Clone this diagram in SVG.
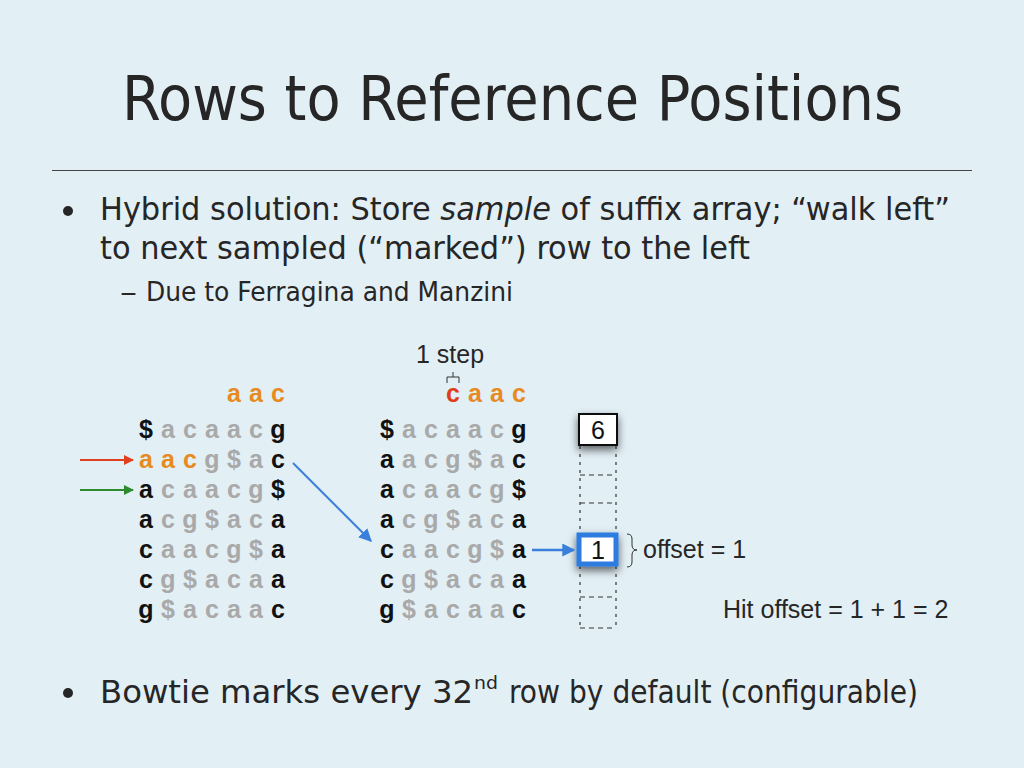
<svg xmlns="http://www.w3.org/2000/svg" width="1024" height="768" viewBox="0 0 1024 768">
<defs>
<style>
.t{font-family:"DejaVu Sans Condensed","DejaVu Sans",sans-serif;fill:#262626}
.m{font-family:"Liberation Sans",Arial,sans-serif;font-weight:bold;font-size:25px;text-anchor:middle}
.k{fill:#111}
.g{fill:#a9a9a9}
.o{fill:#e88a22}
.r{fill:#e03c1e}
.h{font-family:"Liberation Sans",Arial,sans-serif;font-size:25px;fill:#262626}
.dot{fill:none;stroke:#333;stroke-width:1.2;stroke-dasharray:3 5}
.dash{fill:none;stroke:#333;stroke-width:1.2;stroke-dasharray:5 4}
</style>
<marker id="ar" viewBox="0 0 10 10" refX="9" refY="5" markerWidth="10" markerHeight="10" markerUnits="userSpaceOnUse" orient="auto"><path d="M0,0 L10,5 L0,10 Z" fill="#e0401f"/></marker>
<marker id="ag" viewBox="0 0 10 10" refX="9" refY="5" markerWidth="10" markerHeight="10" markerUnits="userSpaceOnUse" orient="auto"><path d="M0,0 L10,5 L0,10 Z" fill="#2e8a2e"/></marker>
<marker id="ab" viewBox="0 0 10 10" refX="9" refY="5" markerWidth="13" markerHeight="13" markerUnits="userSpaceOnUse" orient="auto"><path d="M0,0 L10,5 L0,10 Z" fill="#3a7fdc"/></marker>
<filter id="sh" x="-50%" y="-50%" width="200%" height="220%"><feDropShadow dx="0" dy="4" stdDeviation="4" flood-color="#000" flood-opacity="0.6"/></filter>
</defs>
<rect width="1024" height="768" fill="#e2eff5"/>

<g id="title"><text class="t" x="122" y="120" font-size="62" textLength="781" lengthAdjust="spacingAndGlyphs">Rows to Reference Positions</text></g>
<line x1="52" y1="170.5" x2="972" y2="170.5" stroke="#444" stroke-width="1"/>

<g id="bullets">
<circle cx="68" cy="211" r="5" fill="#262626"/>
<text class="t" x="100" y="220" font-size="32" textLength="850" lengthAdjust="spacingAndGlyphs">Hybrid solution: Store <tspan font-style="italic">sample</tspan> of suffix array; “walk left”</text>
<text class="t" x="100" y="259" font-size="32" textLength="650" lengthAdjust="spacingAndGlyphs">to next sampled (“marked”) row to the left</text>
<text class="t" x="120" y="301" font-size="26" textLength="17" lengthAdjust="spacingAndGlyphs">–</text>
<text class="t" x="146" y="301" font-size="26" textLength="367" lengthAdjust="spacingAndGlyphs">Due to Ferragina and Manzini</text>
<circle cx="68" cy="693" r="5" fill="#262626"/>
<text class="t" x="100" y="703" font-size="32" textLength="373" lengthAdjust="spacingAndGlyphs">Bowtie marks every 32</text>
<text class="t" x="474" y="689" font-size="18" textLength="24" lengthAdjust="spacingAndGlyphs">nd</text>
<text class="t" x="509" y="703" font-size="32" textLength="409" lengthAdjust="spacingAndGlyphs">row by default (configurable)</text>
</g>

<g id="left-matrix" class="m">
<text y="402"><tspan x="234" class="o">a</tspan><tspan x="256" class="o">a</tspan><tspan x="278" class="o">c</tspan></text>
<text y="438"><tspan x="146" class="k">$</tspan><tspan x="168" class="g">a</tspan><tspan x="190" class="g">c</tspan><tspan x="212" class="g">a</tspan><tspan x="234" class="g">a</tspan><tspan x="256" class="g">c</tspan><tspan x="278" class="k">g</tspan></text>
<text y="468"><tspan x="146" class="o">a</tspan><tspan x="168" class="o">a</tspan><tspan x="190" class="o">c</tspan><tspan x="212" class="g">g</tspan><tspan x="234" class="g">$</tspan><tspan x="256" class="g">a</tspan><tspan x="278" class="k">c</tspan></text>
<text y="498"><tspan x="146" class="k">a</tspan><tspan x="168" class="g">c</tspan><tspan x="190" class="g">a</tspan><tspan x="212" class="g">a</tspan><tspan x="234" class="g">c</tspan><tspan x="256" class="g">g</tspan><tspan x="278" class="k">$</tspan></text>
<text y="528"><tspan x="146" class="k">a</tspan><tspan x="168" class="g">c</tspan><tspan x="190" class="g">g</tspan><tspan x="212" class="g">$</tspan><tspan x="234" class="g">a</tspan><tspan x="256" class="g">c</tspan><tspan x="278" class="k">a</tspan></text>
<text y="558"><tspan x="146" class="k">c</tspan><tspan x="168" class="g">a</tspan><tspan x="190" class="g">a</tspan><tspan x="212" class="g">c</tspan><tspan x="234" class="g">g</tspan><tspan x="256" class="g">$</tspan><tspan x="278" class="k">a</tspan></text>
<text y="588"><tspan x="146" class="k">c</tspan><tspan x="168" class="g">g</tspan><tspan x="190" class="g">$</tspan><tspan x="212" class="g">a</tspan><tspan x="234" class="g">c</tspan><tspan x="256" class="g">a</tspan><tspan x="278" class="k">a</tspan></text>
<text y="618"><tspan x="146" class="k">g</tspan><tspan x="168" class="g">$</tspan><tspan x="190" class="g">a</tspan><tspan x="212" class="g">c</tspan><tspan x="234" class="g">a</tspan><tspan x="256" class="g">a</tspan><tspan x="278" class="k">c</tspan></text>
</g>

<g id="right-matrix" class="m">
<text y="402"><tspan x="453" class="r">c</tspan><tspan x="475" class="o">a</tspan><tspan x="497" class="o">a</tspan><tspan x="519" class="o">c</tspan></text>
<text y="438"><tspan x="387" class="k">$</tspan><tspan x="409" class="g">a</tspan><tspan x="431" class="g">c</tspan><tspan x="453" class="g">a</tspan><tspan x="475" class="g">a</tspan><tspan x="497" class="g">c</tspan><tspan x="519" class="k">g</tspan></text>
<text y="468"><tspan x="387" class="k">a</tspan><tspan x="409" class="g">a</tspan><tspan x="431" class="g">c</tspan><tspan x="453" class="g">g</tspan><tspan x="475" class="g">$</tspan><tspan x="497" class="g">a</tspan><tspan x="519" class="k">c</tspan></text>
<text y="498"><tspan x="387" class="k">a</tspan><tspan x="409" class="g">c</tspan><tspan x="431" class="g">a</tspan><tspan x="453" class="g">a</tspan><tspan x="475" class="g">c</tspan><tspan x="497" class="g">g</tspan><tspan x="519" class="k">$</tspan></text>
<text y="528"><tspan x="387" class="k">a</tspan><tspan x="409" class="g">c</tspan><tspan x="431" class="g">g</tspan><tspan x="453" class="g">$</tspan><tspan x="475" class="g">a</tspan><tspan x="497" class="g">c</tspan><tspan x="519" class="k">a</tspan></text>
<text y="558"><tspan x="387" class="k">c</tspan><tspan x="409" class="g">a</tspan><tspan x="431" class="g">a</tspan><tspan x="453" class="g">c</tspan><tspan x="475" class="g">g</tspan><tspan x="497" class="g">$</tspan><tspan x="519" class="k">a</tspan></text>
<text y="588"><tspan x="387" class="k">c</tspan><tspan x="409" class="g">g</tspan><tspan x="431" class="g">$</tspan><tspan x="453" class="g">a</tspan><tspan x="475" class="g">c</tspan><tspan x="497" class="g">a</tspan><tspan x="519" class="k">a</tspan></text>
<text y="618"><tspan x="387" class="k">g</tspan><tspan x="409" class="g">$</tspan><tspan x="431" class="g">a</tspan><tspan x="453" class="g">c</tspan><tspan x="475" class="g">a</tspan><tspan x="497" class="g">a</tspan><tspan x="519" class="k">c</tspan></text>
</g>

<g id="step-label">
<text class="h" x="416" y="363" font-size="24">1 step</text>
<path d="M447,383 V377 H459 V383 M453,377 V372" fill="none" stroke="#333" stroke-width="1"/>
</g>

<g id="sa-column">
<line class="dot" x1="580" y1="446" x2="580" y2="628"/>
<line class="dot" x1="616" y1="446" x2="616" y2="628"/>
<line class="dash" x1="580" y1="475" x2="616" y2="475"/>
<line class="dash" x1="580" y1="503" x2="616" y2="503"/>
<line class="dash" x1="580" y1="597" x2="616" y2="597"/>
<line class="dash" x1="580" y1="628" x2="616" y2="628"/>
</g>

<g id="box-6">
<rect x="579" y="414" width="38" height="31" fill="#fff" stroke="#111" stroke-width="2" filter="url(#sh)"/>
<text x="598" y="439" font-family="Liberation Sans, Arial, sans-serif" font-size="25" text-anchor="middle" fill="#111">6</text>
</g>

<g id="box-1">
<rect x="579" y="535" width="37" height="29" fill="#fff" stroke="#2f7be0" stroke-width="5" filter="url(#sh)"/>
<text x="598" y="559" font-family="Liberation Sans, Arial, sans-serif" font-size="25" text-anchor="middle" fill="#111">1</text>
</g>

<g id="offset-label">
<path d="M627,534 Q632,534 632,539 V545 Q632,550 637,550 Q632,550 632,555 V562 Q632,567 627,567" fill="none" stroke="#333" stroke-width="1"/>
<text class="h" x="643" y="558">offset = 1</text>
</g>

<g id="hit-label"><text class="h" x="723" y="618">Hit offset = 1 + 1 = 2</text></g>

<g id="connectors">
<line x1="80" y1="460" x2="133" y2="460" stroke="#e0401f" stroke-width="2" marker-end="url(#ar)"/>
<line x1="80" y1="490" x2="133" y2="490" stroke="#2e8a2e" stroke-width="2" marker-end="url(#ag)"/>
<line x1="293" y1="463" x2="371" y2="541" stroke="#3a7fdc" stroke-width="2" marker-end="url(#ab)"/>
<line x1="532" y1="550" x2="574" y2="550" stroke="#3a7fdc" stroke-width="2.5" marker-end="url(#ab)"/>
</g>
</svg>
